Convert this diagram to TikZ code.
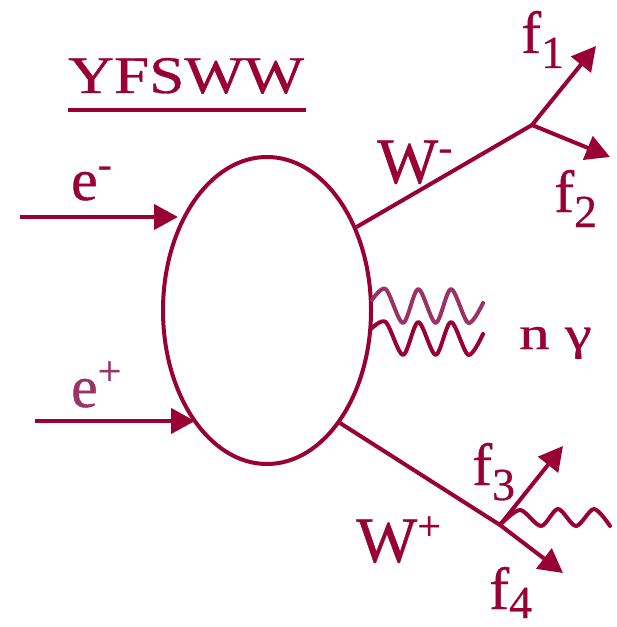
\documentclass[tikz,border=0pt]{standalone}
\usepackage{fontspec}
\setmainfont{Liberation Serif}[FakeBold=0.6]
\usetikzlibrary{arrows.meta,shapes.geometric}
\definecolor{wine}{HTML}{990033}
\definecolor{plum}{HTML}{993366}
\newcommand{\supscr}[1]{\raisebox{22bp}{\fontsize{42}{42}\selectfont#1}}
\newcommand{\subscr}[2][15bp]{\raisebox{-#1}{\fontsize{46}{46}\selectfont#2}}

\begin{document}
\begin{tikzpicture}[
  x=1bp, y=-1bp,
  blob/.style={draw=wine, ellipse, line width=4bp, minimum width=208bp, minimum height=307bp, inner sep=0pt},
  wline/.style={draw=wine, line width=4bp},
  arrow/.style={wline, -{Triangle[length=24bp, width=25bp]}},
  photon/.style={wline, line join=round, line cap=round},
  txt/.style={anchor=base west, inner sep=0pt, text=wine, font=\fontsize{60}{66}\selectfont}
]
\useasboundingbox (0,0) rectangle (617,627);
\node[blob] (blob) at (267,310.5) {};
% vertices and free ends
\coordinate (em) at (20,217);
\coordinate (em tip) at (178,217);
\coordinate (ep) at (35,421);
\coordinate (ep tip) at (195,421);
\coordinate (wm) at (532,125);
\coordinate (wp) at (500,525);
\coordinate (f1 tip) at (596,46);
\coordinate (f2 tip) at (610,157);
\coordinate (f3 tip) at (563,446);
\coordinate (f4 tip) at (563,573);
% lines
\draw[arrow] (em) -- (em tip);
\draw[arrow] (ep) -- (ep tip);
\draw[wline] (blob.43) -- (wm);
\draw[wline] (blob.303) -- (wp);
\draw[arrow] (wm) -- (f1 tip);
\draw[arrow] (wm) -- (f2 tip);
\draw[arrow] (wp) -- (f3 tip);
\draw[arrow] (wp) -- (f4 tip);
% photons
\draw[photon, draw=plum] plot[smooth] coordinates {(372,300) (385.7,289) (403,323) (418.3,289) (435.7,323) (451,289) (468.3,323) (483,303)};
\draw[photon] plot[smooth] coordinates {(371,329) (385.7,322) (403,355) (418.3,322) (435.7,355) (451,322) (468.3,355) (483,334)};
\draw[photon] plot[smooth] coordinates {(wp) (520,510) (541,526) (558,509) (576,526) (594,509) (610,526)};
% labels
\node[txt] (title) at (68,93) {\scalebox{1.2}[1]{\fontsize{53}{60}\selectfont YFSWW}};
\draw[wline] ([shift={(0,17)}]title.base west) -- ([shift={(2,17)}]title.base east);
\node[txt] (em lbl) at (71,200) {e\supscr{-}};
\node[txt, text=plum] (ep lbl) at (71,407) {e\supscr{+}};
\node[txt, font=\fontsize{65}{70}\selectfont] (wm lbl) at (377,183) {W\supscr{-}};
\node[txt, font=\fontsize{65}{70}\selectfont] (wp lbl) at (356,562) {W\supscr{+}};
\node[txt] (f1) at (521,53) {f\subscr{1}};
\node[txt] (f2) at (554,212) {f\subscr{2}};
\node[txt] (f3) at (472,485) {f\subscr{3}};
\node[txt] (f4) at (489,609) {f\subscr[9bp]{4}};
\node[txt] (ngamma) at (519,349) {\scalebox{1.3}[1]{\fontsize{47}{52}\selectfont n γ}};
\end{tikzpicture}
\end{document}
